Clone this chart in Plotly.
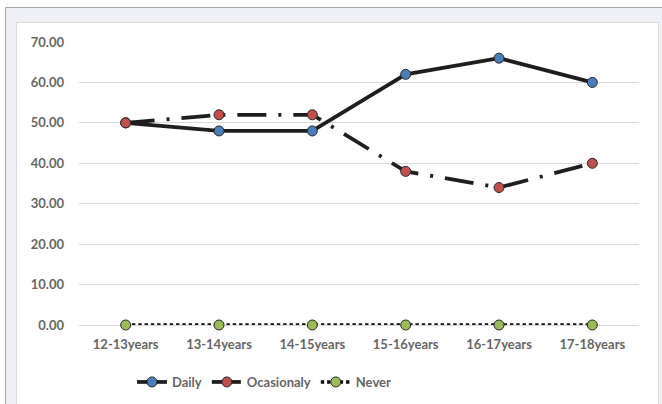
import plotly.graph_objects as go

# Age groups and the share of each usage frequency
age_groups = ["12-13years", "13-14years", "14-15years", "15-16years", "16-17years", "17-18years"]
daily = [50, 48, 48, 62, 66, 60]
occasionally = [50, 52, 52, 38, 34, 40]
never = [0, 0, 0, 0, 0, 0]

W, H = 662, 404
ML, MR, MT, MB = 79, 23, 42, 79
PW, PH = W - ML - MR, H - MT - MB


def px_x(px):
    return (px - ML) / PW


def px_y(py):
    return (H - MB - py) / PH


line_col = "#1e1e1e"
edge = dict(color="#262626", width=1)

fig = go.Figure()
fig.add_trace(go.Scatter(
    x=age_groups, y=daily, name="Daily", mode="lines+markers",
    line=dict(color=line_col, width=3.75),
    marker=dict(symbol="circle", size=10, color="#4a7ebb", line=edge),
    cliponaxis=False,
))
fig.add_trace(go.Scatter(
    x=age_groups, y=occasionally, name="Ocasionaly", mode="lines+markers",
    line=dict(color=line_col, width=3.75, dash="29px,12px,3px,12px"),
    marker=dict(symbol="circle", size=10, color="#c0504d", line=edge),
    cliponaxis=False,
))
fig.add_trace(go.Scatter(
    x=age_groups, y=never, name="Never", mode="lines+markers",
    line=dict(color="#111111", width=3.6, dash="3.4px,2.9px"),
    marker=dict(symbol="circle", size=10, color="#9bbb59", line=edge),
    cliponaxis=False,
))

font = dict(family="Lato", size=13, color="#666666", weight="bold")

shapes = [
    # outer frame area
    dict(type="rect", xref="paper", yref="paper", layer="below",
         x0=px_x(5.5), x1=px_x(663), y0=px_y(405), y1=px_y(7.5),
         fillcolor="#eff0f6", line=dict(color="#a6a6a6", width=1)),
    # inner white chart area
    dict(type="rect", xref="paper", yref="paper", layer="below",
         x0=px_x(16.5), x1=px_x(658.5), y0=px_y(405), y1=px_y(22.5),
         fillcolor="#ffffff", line=dict(color="#d9d9d9", width=1)),
]

fig.update_layout(
    width=W, height=H,
    margin=dict(l=ML, r=MR, t=MT, b=MB, autoexpand=False),
    paper_bgcolor="#ffffff",
    plot_bgcolor="rgba(0,0,0,0)",
    font=font,
    showlegend=True,
    legend=dict(orientation="h", x=px_x(132), xanchor="left",
                y=px_y(382), yanchor="middle",
                font=font, itemwidth=30, tracegroupgap=0,
                bgcolor="rgba(0,0,0,0)"),
    shapes=shapes,
    xaxis=dict(type="category", range=[-0.5, 5.5], showgrid=False,
               showline=False, zeroline=False, ticks="",
               ticklabelstandoff=10,
               tickfont=font, fixedrange=True),
    yaxis=dict(range=[0, 70], dtick=10, tickformat=".2f",
               showgrid=True, gridcolor="#d9d9d9", gridwidth=1,
               zeroline=True, zerolinecolor="#d9d9d9", zerolinewidth=1,
               showline=False, ticks="", ticklabelstandoff=14,
               tickfont=font, fixedrange=True),
)

fig.write_html("out.html")
